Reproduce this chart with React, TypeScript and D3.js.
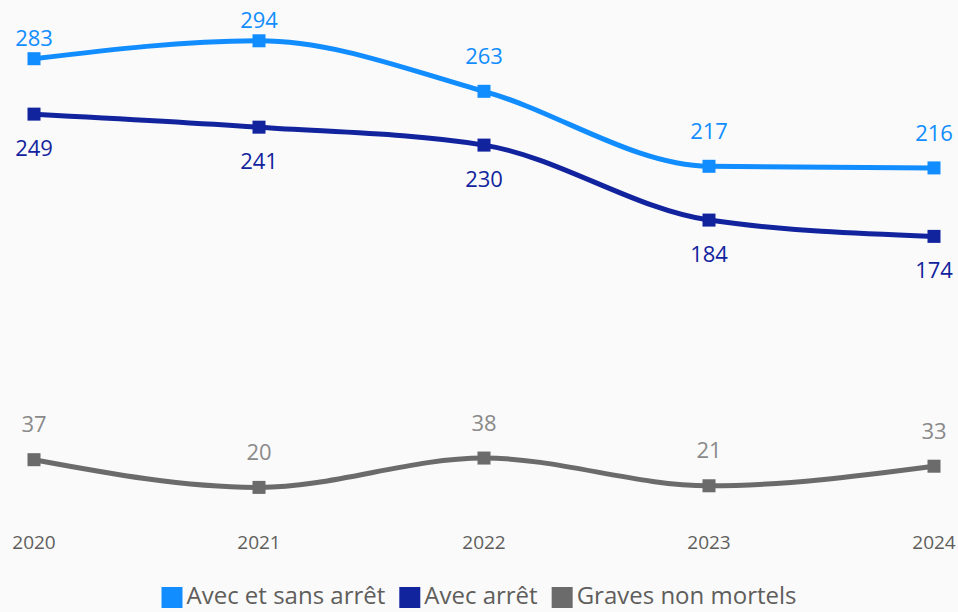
import React, { useEffect, useRef } from 'react';
import * as d3 from 'd3';

const years = ['2020', '2021', '2022', '2023', '2024'];
const avecEtSansArret = [283, 294, 263, 217, 216];
const avecArret = [249, 241, 230, 184, 174];
const gravesNonMortels = [37, 20, 38, 21, 33];

const series = [
  { name: 'Avec et sans arrêt', values: avecEtSansArret, color: '#118DFF', labelColor: '#118DFF', labelPos: 'above' },
  { name: 'Avec arrêt', values: avecArret, color: '#12239E', labelColor: '#12239E', labelPos: 'below' },
  { name: 'Graves non mortels', values: gravesNonMortels, color: '#6B6B6B', labelColor: '#8A8A8A', labelPos: 'above' },
];

const W = 958;
const H = 612;
const FONT = "'Segoe UI', 'Open Sans', sans-serif";

export default function App() {
  const svgRef = useRef<SVGSVGElement | null>(null);

  useEffect(() => {
    if (!svgRef.current) return;
    const svg = d3.select(svgRef.current);
    svg.selectAll('*').remove();

    svg.append('rect').attr('width', W).attr('height', H).attr('fill', '#FAFAFA');

    const x = d3.scalePoint<string>().domain(years).range([34, 934]);
    const y = d3.scaleLinear().domain([0, 300]).range([520, 31]);

    const line = d3.line<number>()
      .x((_, i) => x(years[i]) as number)
      .y(d => y(d))
      .curve(d3.curveMonotoneX);

    // x axis labels
    svg.append('g').selectAll('text')
      .data(years)
      .join('text')
      .attr('x', d => x(d) as number)
      .attr('y', 542)
      .attr('dy', '0.35em')
      .attr('text-anchor', 'middle')
      .attr('font-family', FONT)
      .attr('font-size', 19)
      .attr('fill', '#605E5C')
      .text(d => d);

    series.forEach(s => {
      const g = svg.append('g');
      g.append('path')
        .datum(s.values)
        .attr('d', line)
        .attr('fill', 'none')
        .attr('stroke', s.color)
        .attr('stroke-width', 5)
        .attr('stroke-linejoin', 'round');

      g.selectAll('rect')
        .data(s.values)
        .join('rect')
        .attr('x', (_, i) => (x(years[i]) as number) - 6.5)
        .attr('y', d => y(d) - 6.5)
        .attr('width', 13)
        .attr('height', 13)
        .attr('fill', s.color);

      g.selectAll('text')
        .data(s.values)
        .join('text')
        .attr('x', (_, i) => x(years[i]) as number)
        .attr('y', d => {
          const cy = y(d);
          if (s.labelPos === 'below') return cy + 34;
          const above = cy - 35;
          return above < 30 ? Math.max(15, cy - 20) : above;
        })
        .attr('dy', '0.35em')
        .attr('text-anchor', 'middle')
        .attr('font-family', FONT)
        .attr('font-size', 22)
        .attr('fill', s.labelColor)
        .text(d => d);
    });

    // legend
    const legend = svg.append('g');
    let cx = 0;
    series.forEach(s => {
      const item = legend.append('g').attr('transform', `translate(${cx},0)`);
      item.append('rect')
        .attr('x', 0).attr('y', 587)
        .attr('width', 21).attr('height', 21)
        .attr('fill', s.color);
      const t = item.append('text')
        .attr('x', 25).attr('y', 596)
        .attr('dy', '0.35em')
        .attr('font-family', FONT)
        .attr('font-size', 24)
        .attr('fill', '#605E5C')
        .text(s.name);
      const tw = (t.node() as SVGTextElement).getComputedTextLength();
      cx += 25 + tw + 14;
    });
    const total = cx - 14;
    legend.attr('transform', `translate(${(W - total) / 2},0)`);
  }, []);

  return (
    <svg
      ref={svgRef}
      width={W}
      height={H}
      viewBox={`0 0 ${W} ${H}`}
      style={{ position: 'absolute', left: 0, top: 0 }}
    />
  );
}
